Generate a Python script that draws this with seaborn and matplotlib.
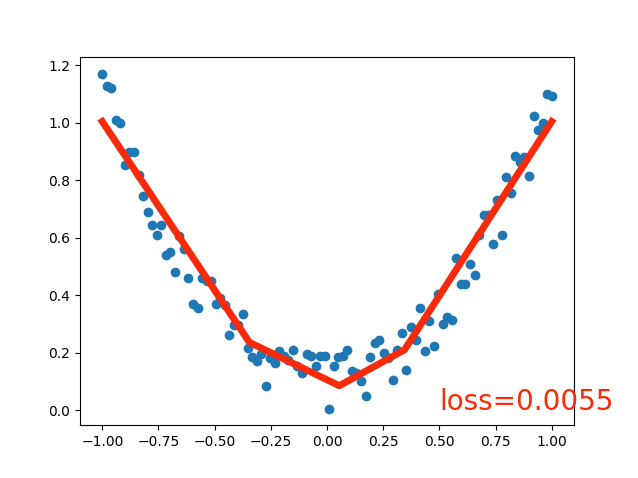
import numpy as np
import matplotlib
matplotlib.use("Agg")
import matplotlib.pyplot as plt
import seaborn as sns

# noisy samples
x = np.linspace(-1, 1, 100)
y = [1.17, 1.13, 1.12, 1.01, 1.00, 0.855, 0.90, 0.90, 0.82, 0.745,
     0.69, 0.645, 0.61, 0.645, 0.54, 0.55, 0.48, 0.605, 0.56, 0.46,
     0.37, 0.355, 0.46, 0.45, 0.45, 0.37, 0.39, 0.365, 0.26, 0.295,
     0.295, 0.335, 0.215, 0.185, 0.17, 0.195, 0.085, 0.18, 0.165, 0.205,
     0.19, 0.175, 0.21, 0.155, 0.13, 0.195, 0.19, 0.155, 0.19, 0.19,
     0.005, 0.155, 0.185, 0.19, 0.21, 0.135, 0.13, 0.10, 0.05, 0.185,
     0.235, 0.245, 0.20, 0.18, 0.105, 0.21, 0.27, 0.14, 0.29, 0.245,
     0.355, 0.205, 0.31, 0.225, 0.405, 0.30, 0.325, 0.315, 0.53, 0.44,
     0.44, 0.51, 0.47, 0.61, 0.68, 0.68, 0.58, 0.73, 0.61, 0.81,
     0.755, 0.885, 0.865, 0.88, 0.815, 1.025, 0.975, 1.00, 1.10, 1.095]

# fitted prediction (piecewise linear)
pred_x = [-1.0, -0.345, 0.055, 0.345, 1.0]
pred_y = [1.005, 0.236, 0.085, 0.21, 1.005]

loss_label = "loss=0.0055"
red = "#f82a0a"

fig, ax = plt.subplots(figsize=(6.38, 4.78), dpi=100)
sns.scatterplot(x=x, y=y, s=36, linewidth=1, edgecolor="C0", color="C0", ax=ax)
sns.lineplot(x=pred_x, y=pred_y, color=red, lw=5, ax=ax)
ax.text(0.5, 0, loss_label, fontdict={"size": 20, "color": red})

plt.savefig("out.png")
